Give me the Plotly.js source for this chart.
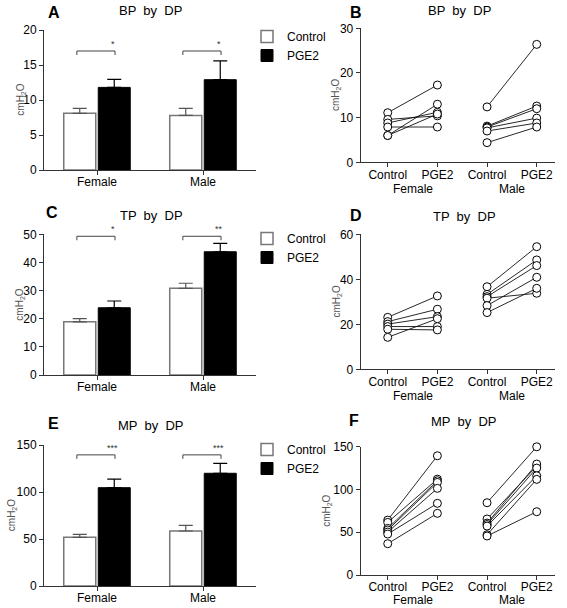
<!DOCTYPE html>
<html>
<head>
<meta charset="utf-8">
<script src="https://cdn.plot.ly/plotly-3.0.1.min.js"></script>
<style>html,body{margin:0;padding:0;background:#fff}#chart{width:567px;height:608px}</style>
</head>
<body>
<div id="chart"></div>
<script>
// ---- categories ----
var groups = ['Female', 'Male'];
var conditions = ['Control', 'PGE2'];
var panelTitles = ['BP  by  DP', 'TP  by  DP', 'MP  by  DP'];
var panelLetters = ['A', 'B', 'C', 'D', 'E', 'F'];
var stars = [['*', '*'], ['*', '**'], ['***', '***']];
var yLabel = 'cmH<sub>2</sub>O';

// ---- bar panels (mean, SEM) ----
var bpControlMean = [8.1, 7.8];
var bpControlSem  = [0.7, 1.0];
var bpPGE2Mean    = [11.8, 12.9];
var bpPGE2Sem     = [1.15, 2.7];

var tpControlMean = [18.9, 30.8];
var tpControlSem  = [1.1, 1.8];
var tpPGE2Mean    = [23.9, 43.8];
var tpPGE2Sem     = [2.4, 3.0];

var mpControlMean = [51.8, 58.5];
var mpControlSem  = [3.2, 6.0];
var mpPGE2Mean    = [104.6, 119.9];
var mpPGE2Sem     = [9.2, 10.6];

var bracketLevels = [17, 49.3, 139.5];

// ---- paired individual values ----
var bpFemaleControl = [11.1, 9.6, 8.8, 7.9, 6.0, 6.0];
var bpFemalePGE2    = [17.3, 10.4, 11.2, 7.9, 13.0, 10.8];
var bpMaleControl   = [12.4, 8.1, 7.9, 7.7, 7.0, 4.4];
var bpMalePGE2      = [26.4, 12.6, 12.0, 9.9, 8.8, 7.9];

var tpFemaleControl = [23.1, 21.2, 20.1, 19.0, 17.8, 14.2];
var tpFemalePGE2    = [32.6, 26.7, 23.4, 19.0, 17.5, 22.5];
var tpMaleControl   = [36.7, 33.3, 32.3, 31.6, 28.3, 25.2];
var tpMalePGE2      = [54.5, 48.6, 46.1, 33.8, 40.9, 36.0];

var mpFemaleControl = [64.2, 61.5, 54.5, 52.6, 50.2, 47.9, 36.6];
var mpFemalePGE2    = [139.4, 112.1, 110.2, 108.3, 101.3, 83.8, 72.1];
var mpMaleControl   = [84.5, 65.5, 60.7, 59.0, 57.2, 47.1, 45.6];
var mpMalePGE2      = [149.9, 127.3, 129.7, 125.0, 116.0, 111.8, 74.0];

// ---- axis ranges / ticks ----
var barRanges = [[0, 20], [0, 50], [0, 150]];
var barDticks = [5, 10, 50];
var pairRanges = [[0, 30], [0, 60], [0, 150]];
var pairDticks = [10, 20, 50];

// ---- layout geometry (pixels) ----
var W = 567, H = 608;
function px2x(p) { return p / W; }
function py2y(p) { return 1 - p / H; }

var FONT = 'Liberation Sans, Arial, Helvetica, sans-serif';
var AXC = '#333';

var barDomainsY = [[170, 30], [375, 234.3], [586, 445]];
var pairDomainsY = [[162.3, 28.3], [369.3, 234.3], [575, 446.7]];
var barDomainX = [px2x(44), px2x(256)];
var pairDomainX = [px2x(360.7), px2x(555)];
var legendTops = [22, 224, 435];
var titlePos = [[150, 10], [151, 215], [151, 425]];
var titlePosR = [[459, 10], [464, 216], [464, 421]];
var letterPos = [[54, 12], [52, 213], [53, 423]];
var letterPosR = [[355.5, 12], [355.5, 215.5], [354, 420]];
var yTitleShift = [-23.3, -24, -32.3];
var yTitleShiftR = [-24, -24, -33.7];
var groupLabelShift = [-27, -26.5, -24.5];

var barData = [
  [bpControlMean, bpControlSem, bpPGE2Mean, bpPGE2Sem],
  [tpControlMean, tpControlSem, tpPGE2Mean, tpPGE2Sem],
  [mpControlMean, mpControlSem, mpPGE2Mean, mpPGE2Sem]
];
var pairData = [
  [bpFemaleControl, bpFemalePGE2, bpMaleControl, bpMalePGE2],
  [tpFemaleControl, tpFemalePGE2, tpMaleControl, tpMalePGE2],
  [mpFemaleControl, mpFemalePGE2, mpMaleControl, mpMalePGE2]
];

var traces = [];
var layout = {
  width: W, height: H,
  margin: {l: 0, r: 0, t: 0, b: 0, pad: 0},
  paper_bgcolor: '#fff', plot_bgcolor: 'rgba(0,0,0,0)',
  font: {family: FONT, size: 12, color: '#000'},
  barmode: 'group', bargap: 0.349, bargroupgap: 0.072,
  shapes: [], annotations: []
};

function yTitleAnn(xref, yref, shift) {
  return {xref: xref + ' domain', yref: yref + ' domain', x: 0, y: 0.5, xshift: shift,
    xanchor: 'center', yanchor: 'middle', textangle: -90, showarrow: false,
    text: yLabel, font: {size: 10, color: '#555', family: FONT}};
}

for (var r = 0; r < 3; r++) {
  var bi = 2 * r + 1, pi = 2 * r + 2;
  var bx = 'x' + (bi === 1 ? '' : bi), by = 'y' + (bi === 1 ? '' : bi);
  var px = 'x' + pi, py = 'y' + pi;
  var legName = r === 0 ? 'legend' : 'legend' + (r + 1);
  var d = barData[r];

  traces.push({
    type: 'bar', name: conditions[0], x: groups, y: d[0],
    xaxis: bx, yaxis: by, legend: legName,
    marker: {color: '#fff', line: {color: '#777', width: 1.5}},
    error_y: {type: 'data', symmetric: false, array: d[1], arrayminus: d[1].map(function () { return 0; }),
              color: '#555', thickness: 1.2, width: 7}
  });
  traces.push({
    type: 'bar', name: conditions[1], x: groups, y: d[2],
    xaxis: bx, yaxis: by, legend: legName,
    marker: {color: '#000', line: {color: '#000', width: 1}},
    error_y: {type: 'data', symmetric: false, array: d[3], arrayminus: d[3].map(function () { return 0; }),
              color: '#000', thickness: 1.2, width: 7}
  });

  var xa = bi === 1 ? 'xaxis' : 'xaxis' + bi;
  var ya = bi === 1 ? 'yaxis' : 'yaxis' + bi;
  layout[xa] = {
    domain: barDomainX, anchor: by, type: 'category', range: [-0.5, 1.5],
    showline: true, linecolor: AXC, linewidth: 1, ticks: 'outside', ticklen: 4, tickcolor: AXC,
    showgrid: false, zeroline: false, tickfont: {size: 12}, ticklabelstandoff: -3
  };
  layout[ya] = {
    domain: [py2y(barDomainsY[r][0]), py2y(barDomainsY[r][1])], anchor: bx,
    range: barRanges[r], dtick: barDticks[r], tick0: 0,
    showline: true, linecolor: AXC, linewidth: 1, ticks: 'outside', ticklen: 4, tickcolor: AXC,
    showgrid: false, zeroline: false, tickfont: {size: 12}
  };
  layout.annotations.push(yTitleAnn(bx, by, yTitleShift[r]));

  layout[legName] = {
    x: px2x(247), y: py2y(legendTops[r]), xanchor: 'left', yanchor: 'top',
    bgcolor: 'rgba(0,0,0,0)', font: {size: 12, family: FONT}, borderwidth: 0
  };

  // significance brackets and stars
  for (var g = 0; g < groups.length; g++) {
    var x0 = g - 0.19, x1 = g + 0.17;
    layout.shapes.push({type: 'line', xref: bx, yref: by, x0: x0, x1: x1,
      y0: bracketLevels[r], y1: bracketLevels[r], line: {color: '#444', width: 1}});
    [x0, x1].forEach(function (xx) {
      layout.shapes.push({type: 'line', xref: bx, yref: by, x0: xx, x1: xx,
        ysizemode: 'pixel', yanchor: bracketLevels[r], y0: -4, y1: 0, line: {color: '#444', width: 1}});
    });
    layout.annotations.push({xref: bx, yref: by, x: g + 0.15, y: bracketLevels[r],
      text: stars[r][g], showarrow: false, yanchor: 'bottom', xanchor: 'center',
      font: {size: 9, color: '#333'}, yshift: 0});
  }

  // paired panels
  var pd = pairData[r];
  for (var gg = 0; gg < 2; gg++) {
    var ctrl = pd[2 * gg], pge = pd[2 * gg + 1];
    for (var k = 0; k < ctrl.length; k++) {
      traces.push({
        type: 'scatter', mode: 'lines+markers', showlegend: false,
        x: [2 * gg, 2 * gg + 1], y: [ctrl[k], pge[k]],
        xaxis: px, yaxis: py,
        line: {color: '#111', width: 0.9},
        marker: {symbol: 'circle', size: 8, color: '#fff', line: {color: '#000', width: 1}},
        cliponaxis: false
      });
    }
    layout.annotations.push({xref: px, yref: py + ' domain', x: 2 * gg + 0.5, y: 0,
      text: groups[gg], showarrow: false, yanchor: 'middle', yshift: groupLabelShift[r],
      font: {size: 12}});
  }
  layout['xaxis' + pi] = {
    domain: pairDomainX, anchor: py, range: [-0.544, 3.368],
    tickvals: [0, 1, 2, 3], ticktext: [conditions[0], conditions[1], conditions[0], conditions[1]],
    showline: true, linecolor: AXC, linewidth: 1, ticks: 'outside', ticklen: 4, tickcolor: AXC,
    showgrid: false, zeroline: false, tickfont: {size: 12}, ticklabelstandoff: -3
  };
  layout['yaxis' + pi] = {
    domain: [py2y(pairDomainsY[r][0]), py2y(pairDomainsY[r][1])], anchor: px,
    range: pairRanges[r], dtick: pairDticks[r], tick0: 0,
    showline: true, linecolor: AXC, linewidth: 1, ticks: 'outside', ticklen: 4, tickcolor: AXC,
    showgrid: false, zeroline: false, tickfont: {size: 12}
  };
  layout.annotations.push(yTitleAnn(px, py, yTitleShiftR[r]));

  // panel titles and letters
  layout.annotations.push({xref: 'paper', yref: 'paper', x: px2x(titlePos[r][0]), y: py2y(titlePos[r][1]),
    text: panelTitles[r], showarrow: false, xanchor: 'center', yanchor: 'middle', font: {size: 13}});
  layout.annotations.push({xref: 'paper', yref: 'paper', x: px2x(titlePosR[r][0]), y: py2y(titlePosR[r][1]),
    text: panelTitles[r], showarrow: false, xanchor: 'center', yanchor: 'middle', font: {size: 13}});
  layout.annotations.push({xref: 'paper', yref: 'paper', x: px2x(letterPos[r][0]), y: py2y(letterPos[r][1]),
    text: '<b>' + panelLetters[2 * r] + '</b>', showarrow: false, xanchor: 'center', yanchor: 'middle', font: {size: 16}});
  layout.annotations.push({xref: 'paper', yref: 'paper', x: px2x(letterPosR[r][0]), y: py2y(letterPosR[r][1]),
    text: '<b>' + panelLetters[2 * r + 1] + '</b>', showarrow: false, xanchor: 'center', yanchor: 'middle', font: {size: 16}});
}

Plotly.newPlot('chart', traces, layout, {staticPlot: true, displayModeBar: false});
</script>
</body>
</html>
